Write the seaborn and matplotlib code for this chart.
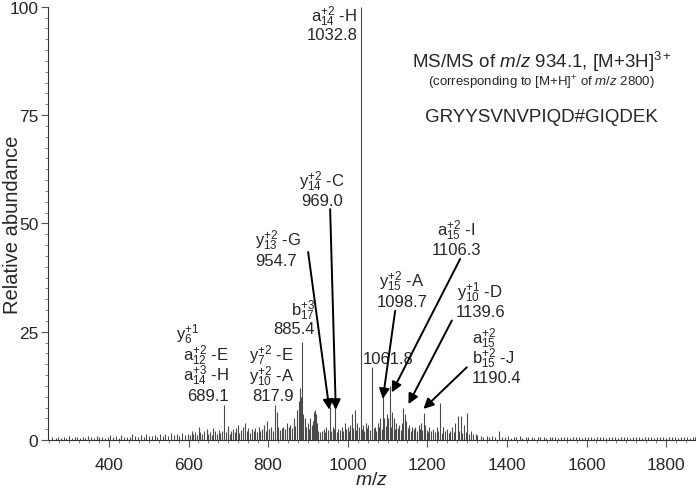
import numpy as np
import pandas as pd
import matplotlib
matplotlib.use('Agg')
import matplotlib.pyplot as plt
from matplotlib.ticker import MultipleLocator
import seaborn as sns

# labelled / prominent peaks (m/z, relative abundance)
peak_mz = [626, 646, 662, 700, 712, 724, 736, 742, 760, 776, 790, 798,
           817.9, 822, 826, 838, 848, 856, 864, 872, 877, 880, 883, 885.4,
           888, 893, 900, 906, 912, 916, 918, 920, 923,
           940, 946, 954.7, 962, 969.0, 976, 985, 993, 1000, 1006, 1011,
           1018, 1024, 1028, 1032.8, 1038, 1045, 1052, 1061.8, 1068, 1075,
           1082, 1088, 1092, 1098.7, 1102, 1106.3, 1112, 1116, 1122, 1130,
           1136, 1139.6, 1143, 1147, 1155, 1162, 1170, 1178, 1184, 1190.4,
           1195, 1205, 1215, 1224, 1233, 1240, 1250, 1262, 1270, 1276,
           1284, 1292, 1300, 1310, 1322, 1380, 689.1]
peak_int = [3.0, 2.5, 2.8, 3.2, 2.6, 3.5, 3.0, 4.0, 2.5, 3.0, 3.5, 4.5,
            8.0, 6.5, 3.0, 3.0, 4.0, 3.5, 5.0, 7.0, 9.0, 12.0, 10.0, 22.6,
            6.0, 5.0, 4.0, 5.0, 4.5, 6.5, 7.0, 6.0, 4.0,
            2.5, 3.0, 7.6, 3.0, 8.0, 2.5, 3.0, 4.0, 3.0, 3.5, 6.0,
            7.0, 4.0, 3.0, 100.0, 3.5, 4.0, 3.5, 16.8, 3.0, 4.0,
            5.0, 11.0, 5.0, 6.0, 5.0, 12.5, 6.5, 5.0, 4.0, 3.5,
            4.0, 7.4, 6.0, 4.5, 3.5, 3.0, 3.0, 3.5, 4.0, 6.3,
            3.5, 3.0, 2.5, 3.0, 8.5, 3.0, 2.5, 3.0, 4.0, 5.5,
            5.5, 3.5, 6.2, 2.0, 1.5, 2.0, 8.0]

# baseline noise
noise_low = [(258, 0.6), (266, 0.4), (271, 0.8), (279, 0.5), (286, 0.7), (293, 0.4),
             (299, 0.9), (307, 0.5), (314, 0.6), (320, 0.8), (327, 0.4), (335, 0.7),
             (341, 0.5), (348, 0.9), (355, 0.6), (362, 0.4), (369, 1.0), (375, 0.6),
             (383, 0.8), (390, 0.5), (397, 0.7), (403, 1.1), (410, 0.6), (418, 0.9),
             (425, 0.5), (431, 1.2), (438, 0.7), (446, 0.8), (452, 0.6), (459, 1.3),
             (466, 0.9), (473, 0.7), (480, 1.1), (487, 0.8), (494, 1.4), (501, 0.9),
             (507, 1.0), (515, 1.2), (521, 0.8), (528, 1.5), (535, 1.0), (542, 1.3),
             (549, 0.9), (556, 1.6), (563, 1.1), (570, 1.4), (577, 1.0), (584, 1.7),
             (591, 1.2), (598, 1.5)]
noise_mid = [(603, 1.2), (608, 2.0), (612, 1.4), (617, 1.8), (621, 1.1), (630, 1.9),
             (635, 1.3), (640, 2.2), (650, 1.5), (655, 1.9), (658, 1.2), (667, 2.1),
             (671, 1.4), (676, 2.4), (680, 1.6), (684, 2.0), (694, 1.8), (698, 2.6),
             (703, 1.5), (707, 2.2), (716, 1.9), (720, 2.7), (728, 1.7), (732, 2.3),
             (746, 2.0), (750, 2.8), (755, 1.6), (764, 2.1), (768, 2.9), (772, 1.8),
             (780, 2.2), (784, 2.6), (794, 2.0), (803, 2.5), (807, 3.0), (811, 2.2),
             (830, 2.4), (834, 2.8), (843, 2.5), (852, 3.0), (860, 2.7), (868, 3.2),
             (896, 3.0), (903, 2.6), (909, 3.4), (926, 2.2), (930, 1.8), (935, 2.0),
             (943, 1.9), (950, 2.4), (958, 2.0), (965, 2.5), (973, 1.8), (980, 2.3),
             (989, 2.1), (996, 2.6), (1003, 2.2), (1014, 2.8), (1021, 2.4), (1035, 2.6),
             (1042, 2.2), (1048, 2.9), (1056, 2.3), (1065, 2.7), (1072, 2.1), (1078, 3.0),
             (1085, 2.6), (1095, 3.2), (1109, 3.0), (1119, 2.6), (1126, 2.9), (1133, 2.4),
             (1151, 2.8), (1158, 2.2), (1166, 2.5), (1174, 2.0), (1181, 2.6), (1187, 2.3),
             (1198, 2.4), (1202, 1.9), (1209, 2.2), (1219, 1.8), (1228, 2.1), (1237, 1.7),
             (1244, 2.0), (1255, 1.6), (1258, 2.2), (1266, 1.8), (1280, 2.0), (1288, 1.7),
             (1296, 1.9), (1305, 1.5), (1315, 1.3), (1326, 1.2)]
noise_high = [(1334, 0.9), (1341, 0.6), (1349, 1.0), (1356, 0.7), (1363, 0.9), (1371, 0.6),
              (1387, 0.8), (1394, 0.6), (1402, 0.9), (1409, 0.5), (1417, 0.8), (1424, 0.6),
              (1432, 0.9), (1439, 0.5), (1447, 0.7), (1454, 0.6), (1462, 0.8), (1469, 0.5),
              (1477, 0.7), (1484, 0.6), (1492, 0.8), (1499, 0.5), (1507, 0.7), (1514, 0.6),
              (1522, 0.8), (1529, 0.5), (1537, 0.7), (1544, 0.6), (1552, 0.8), (1559, 0.5),
              (1567, 0.7), (1574, 0.6), (1582, 0.8), (1589, 0.5), (1597, 0.7), (1604, 0.6),
              (1612, 0.8), (1619, 0.5), (1627, 0.7), (1634, 0.6), (1642, 0.8), (1649, 0.5),
              (1657, 0.7), (1664, 0.6), (1672, 0.8), (1679, 0.5), (1687, 0.7), (1694, 0.6),
              (1702, 0.8), (1709, 0.5), (1717, 0.7), (1724, 0.6), (1732, 0.8), (1739, 0.5),
              (1747, 0.7), (1754, 0.6), (1762, 0.8), (1769, 0.5), (1777, 0.7), (1784, 0.6),
              (1792, 0.8), (1799, 0.5), (1807, 0.7), (1814, 0.6), (1822, 0.8), (1829, 0.5),
              (1837, 0.7), (1844, 0.6), (1852, 0.8), (1859, 0.5), (1867, 0.7), (1873, 0.6)]

# peak labels: (text, m/z, abundance, horizontal alignment)
labels = [
    (r'$\mathregular{a_{14}^{+2}}$ -H', 1023.6, 98.0, 'right'),
    ('1032.8', 1023.6, 93.6, 'right'),
    (r'$\mathregular{y_{14}^{+2}}$ -C', 935.7, 59.9, 'center'),
    ('969.0', 935.7, 55.3, 'center'),
    (r'$\mathregular{y_{13}^{+2}}$ -G', 767.0, 46.3, 'left'),
    ('954.7', 767.0, 41.4, 'left'),
    (r'$\mathregular{b_{17}^{+3}}$', 918.0, 30.0, 'right'),
    ('885.4', 918.0, 25.8, 'right'),
    (r'$\mathregular{y_{6}^{+1}}$', 568.8, 24.6, 'left'),
    (r'$\mathregular{a_{12}^{+2}}$ -E', 702.0, 19.6, 'right'),
    (r'$\mathregular{a_{14}^{+3}}$ -H', 702.0, 15.0, 'right'),
    ('689.1', 702.0, 10.4, 'right'),
    (r'$\mathregular{y_{7}^{+2}}$ -E', 865.3, 19.6, 'right'),
    (r'$\mathregular{y_{10}^{+2}}$ -A', 865.3, 14.9, 'right'),
    ('817.9', 865.3, 10.4, 'right'),
    ('1061.8', 1101.5, 18.9, 'center'),
    (r'$\mathregular{y_{15}^{+2}}$ -A', 1136.7, 36.8, 'center'),
    ('1098.7', 1136.7, 32.0, 'center'),
    (r'$\mathregular{a_{15}^{+2}}$ -I', 1272.4, 48.5, 'center'),
    ('1106.3', 1272.4, 44.1, 'center'),
    (r'$\mathregular{y_{10}^{+1}}$ -D', 1332.7, 34.2, 'center'),
    ('1139.6', 1332.7, 29.7, 'center'),
    (r'$\mathregular{a_{15}^{+2}}$', 1311.8, 23.5, 'left'),
    (r'$\mathregular{b_{15}^{+2}}$ -J', 1311.8, 18.9, 'left'),
    ('1190.4', 1311.8, 14.5, 'left'),
]

# arrows: (tail m/z, tail abundance, tip m/z, tip abundance)
arrows = [
    (900.5, 43.4, 954.0, 7.0),
    (955.8, 53.3, 970.0, 7.0),
    (1119.1, 29.8, 1088.2, 9.5),
    (1282.4, 41.8, 1110.8, 11.0),
    (1261.6, 27.6, 1152.5, 8.3),
    (1299.2, 16.8, 1190.2, 7.2),
]

sns.set_style('ticks')
plt.rcParams['font.family'] = ['Liberation Sans', 'DejaVu Sans']
plt.rcParams['mathtext.fontset'] = 'custom'
plt.rcParams['mathtext.rm'] = 'Liberation Sans'
plt.rcParams['mathtext.it'] = 'Liberation Sans:italic'

noise = pd.DataFrame(noise_low + noise_mid + noise_high, columns=['mz', 'intensity'])
peaks = pd.DataFrame({'mz': peak_mz, 'intensity': peak_int})
spectrum = pd.concat([noise, peaks]).sort_values('mz')

fig = plt.figure(figsize=(6.96, 4.89), dpi=100)
ax = fig.add_axes([0.069, 0.098, 0.931, 0.886])

ax.vlines(spectrum['mz'], 0, spectrum['intensity'], color='#4a4a4a', lw=0.8)

ax.set_xlim(247, 1875)
ax.set_ylim(0, 100)
ax.xaxis.set_major_locator(MultipleLocator(200))
ax.xaxis.set_minor_locator(MultipleLocator(25))
ax.yaxis.set_major_locator(MultipleLocator(25))
ax.yaxis.set_minor_locator(MultipleLocator(2.5))
ax.tick_params(which='major', length=5, width=0.8, color='#555555', labelsize=12.5, pad=2)
ax.tick_params(which='minor', length=2.5, width=0.6, color='#777777')
ax.tick_params(axis='x', pad=7)
sns.despine(ax=ax)
for s in ['left', 'bottom']:
    ax.spines[s].set_linewidth(0.8)
    ax.spines[s].set_color('#333333')

ax.set_xlabel(r'$\mathit{m/z}$', fontsize=14)
ax.xaxis.set_label_coords(0.5, -0.072)
ax.set_ylabel('Relative abundance', fontsize=14.5)
ax.yaxis.set_label_coords(-0.04, 0.5)

for text, x, y, ha in labels:
    ax.text(x, y, text, ha=ha, va='center', fontsize=12)

for x0, y0, x1, y1 in arrows:
    ax.annotate('', xy=(x1, y1), xytext=(x0, y0),
                arrowprops=dict(arrowstyle='-|>', color='black', lw=1.4,
                                mutation_scale=15, shrinkA=0, shrinkB=0))

ax.text(1487, 87.6, r'MS/MS of $\mathit{m/z}$ 934.1, [M+3H]$^{3+}$',
        ha='center', va='center', fontsize=13.5)
ax.text(1487, 82.7, r'(corresponding to [M+H]$^{+}$ of $\mathit{m/z}$ 2800)',
        ha='center', va='center', fontsize=9.5)
ax.text(1486, 74.8, 'GRYYSVNVPIQD#GIQDEK', ha='center', va='center', fontsize=13.5)

fig.savefig('out.png', dpi=100)
